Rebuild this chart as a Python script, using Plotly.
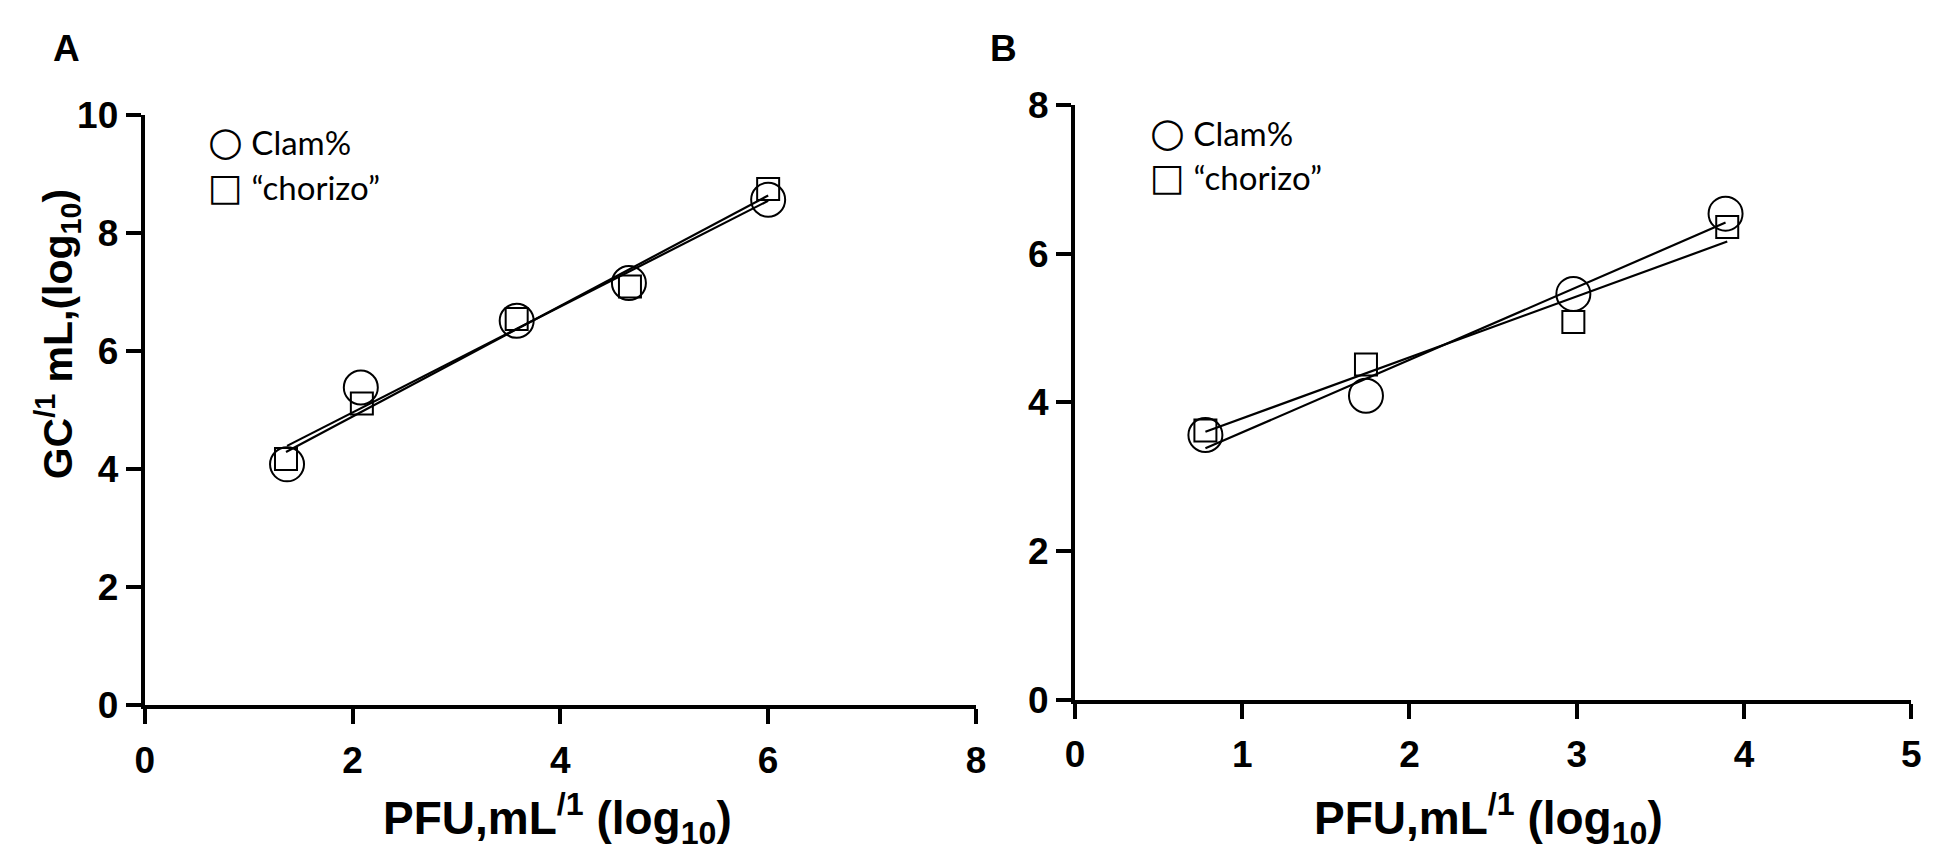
import numpy as np
import plotly.graph_objs as go
from plotly.subplots import make_subplots

# Panel A values (log10)
a_x_clam = [1.37, 2.08, 3.58, 4.66, 6.00]
a_y_clam = [4.08, 5.38, 6.51, 7.15, 8.56]
a_x_chorizo = [1.36, 2.09, 3.58, 4.67, 6.00]
a_y_chorizo = [4.17, 5.11, 6.54, 7.09, 8.74]

# Panel B values (log10)
b_x_clam = [0.78, 1.74, 2.98, 3.89]
b_y_clam = [3.56, 4.09, 5.46, 6.54]
b_x_chorizo = [0.78, 1.74, 2.98, 3.90]
b_y_chorizo = [3.62, 4.51, 5.08, 6.36]

series_names = ["Clam%", "\u201cchorizo\u201d"]

W, H = 1933, 865
BOLD = "Liberation Sans, Arial, sans-serif"


def px(x):
    return x / W


def py(y):
    return 1 - y / H


fig = make_subplots(rows=1, cols=2)


def add_panel(col, xc, yc, xs, ys):
    # regression lines first, markers on top
    for x, y in [(xc, yc), (xs, ys)]:
        fit = np.polyfit(x, y, 1)
        xe = [min(x), max(x)]
        fig.add_trace(go.Scatter(x=xe, y=np.polyval(fit, xe), mode="lines",
                                 line=dict(color="black", width=2.2),
                                 showlegend=False, hoverinfo="skip"), row=1, col=col)
    fig.add_trace(go.Scatter(x=xc, y=yc, mode="markers", name=series_names[0],
                             marker=dict(symbol="circle-open", size=34, color="black",
                                         line=dict(color="black", width=2)),
                             showlegend=False), row=1, col=col)
    fig.add_trace(go.Scatter(x=xs, y=ys, mode="markers", name=series_names[1],
                             marker=dict(symbol="square-open", size=22, color="black",
                                         line=dict(color="black", width=2)),
                             showlegend=False), row=1, col=col)


add_panel(1, a_x_clam, a_y_clam, a_x_chorizo, a_y_chorizo)
add_panel(2, b_x_clam, b_y_clam, b_x_chorizo, b_y_chorizo)

axis_style = dict(showline=True, linewidth=4, linecolor="black", showgrid=False,
                  zeroline=False, ticks="outside", ticklen=15, tickwidth=4,
                  tickcolor="black",
                  tickfont=dict(family=BOLD, size=37, color="black", weight="bold"))

fig.update_xaxes(axis_style)
fig.update_yaxes(axis_style)
fig.update_xaxes(ticklabelstandoff=4)
fig.update_xaxes(domain=[px(128), px(968)], range=[0, 8], dtick=2, row=1, col=1)
fig.update_yaxes(domain=[py(711), py(91)], range=[0, 10], dtick=2, row=1, col=1)
fig.update_xaxes(domain=[px(1068), px(1913)], range=[0, 5], dtick=1, row=1, col=2)
fig.update_yaxes(domain=[py(705), py(81)], range=[0, 8], dtick=2, row=1, col=2)

title_font = dict(family=BOLD, size=46, color="black", weight="bold")
label_font = dict(family=BOLD, size=37, color="black", weight="bold")
annots = [
    dict(text="A", x=px(49), y=py(22), font=label_font),
    dict(text="B", x=px(996), y=py(21), font=label_font),
    dict(text="PFU,mL<sup>/1</sup> (log<sub>10</sub>)", x=px(545), y=py(830), font=title_font),
    dict(text="PFU,mL<sup>/1</sup> (log<sub>10</sub>)", x=px(1486), y=py(830), font=title_font),
    dict(text="GC<sup>/1</sup> mL,(log<sub>10</sub>)", x=px(40), y=py(322), textangle=-90,
         font=dict(family=BOLD, size=41, color="black", weight="bold")),
]

# legend rows drawn as text: big symbol glyph + label
sym = '<span style="font-family:DejaVu Sans;font-size:{}px">{}</span> '
legend_rows = [sym.format(40, "\u25cb") + series_names[0],
               sym.format(37, "\u25a1") + series_names[1]]
legend_pos = [(190, 119, 167), (1142, 109, 157)]
for lx, y1, y2 in legend_pos:
    for row_text, ly in zip(legend_rows, [y1, y2]):
        annots.append(dict(text=row_text, x=px(lx), y=py(ly), xanchor="left",
                           font=dict(family="Lato", size=33, color="black")))

for a in annots:
    a.setdefault("xanchor", "center")
    a.update(xref="paper", yref="paper", yanchor="middle", showarrow=False)

fig.update_layout(
    width=W, height=H,
    margin=dict(l=0, r=0, t=0, b=0),
    paper_bgcolor="white", plot_bgcolor="white",
    annotations=annots,
    showlegend=False,
)

fig.write_html("out.html")
